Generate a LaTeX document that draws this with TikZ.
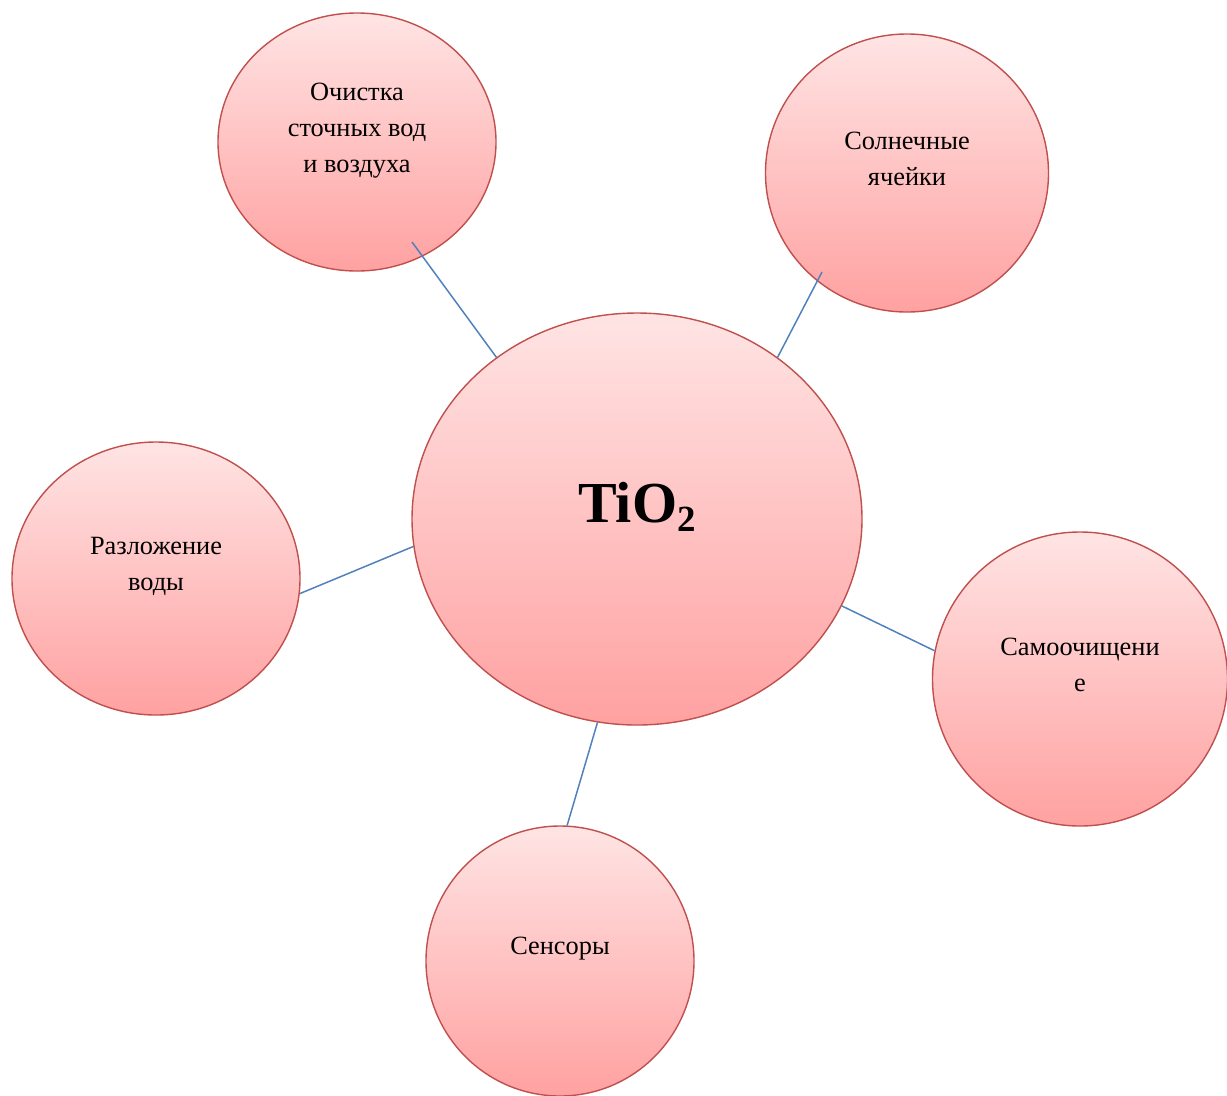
\documentclass[tikz,border=0pt]{standalone}
\usepackage{fontspec}
\setmainfont{Liberation Serif}
\usepackage{xcolor}
\usetikzlibrary{shapes.geometric}
\definecolor{bubbleline}{HTML}{C0504D}
\definecolor{bubbletop}{HTML}{FFE4E4}
\definecolor{bubblebottom}{HTML}{FFA1A1}
\definecolor{linkblue}{HTML}{4F81BD}
\tikzset{
  bubble/.style={ellipse, draw=bubbleline, line width=0.8pt,
    top color=bubbletop, bottom color=bubblebottom, inner sep=0pt},
  caption/.style={align=center, font=\fontsize{15}{20.5}\selectfont},
  link/.style={draw=linkblue, line width=0.85pt},
}

\begin{document}
\begin{tikzpicture}[x=0.2mm,y=-0.2mm]
            \useasboundingbox (0,0) rectangle (1227,1095);
            \node[bubble, minimum width=90mm, minimum height=82.4mm] (tio) at (637,519) {};
            \node[bubble, minimum width=55.6mm, minimum height=51.6mm] (clean) at (357,142) {};
            \node[bubble, minimum width=56.6mm, minimum height=55.6mm] (solar) at (907,173) {};
            \node[bubble, minimum width=57.6mm, minimum height=54.6mm] (water) at (156,578.5) {};
            \node[bubble, minimum width=59mm, minimum height=58.8mm] (self) at (1080,679) {};
            \node[bubble, minimum width=53.6mm, minimum height=54mm] (sensor) at (560,961) {};
            \node[font=\fontsize{33}{40}\selectfont\bfseries] (tio-t) at ([yshift=2.4mm]tio.center)
                {TiO\raisebox{-0.16em}{\fontsize{21}{21}\selectfont 2}};
            \node[caption] (clean-t) at ([yshift=2.2mm]clean.center) {Очистка\\сточных вод\\и воздуха};
            \node[caption] (solar-t) at ([yshift=2.8mm]solar.center) {Солнечные\\ячейки};
            \node[caption] (water-t) at ([yshift=2.4mm]water.center) {Разложение\\воды};
            \node[caption] (self-t) at ([yshift=2.8mm]self.center) {Самоочищени\\е};
            \node[caption] (sensor-t) at ([yshift=2.5mm]sensor.center) {Сенсоры};
            \coordinate (clean-end) at (412,242);
            \coordinate (solar-end) at (822,272);
            \begin{scope}[link]
                \draw (clean-end) -- (tio.131);
                \draw (solar-end) -- (tio.49);
                \draw (water.-6) -- (tio.187);
                \draw (tio.-23) -- (self.169);
                \draw (tio.259) -- (sensor.87);
            \end{scope}
        \end{tikzpicture}
\end{document}
